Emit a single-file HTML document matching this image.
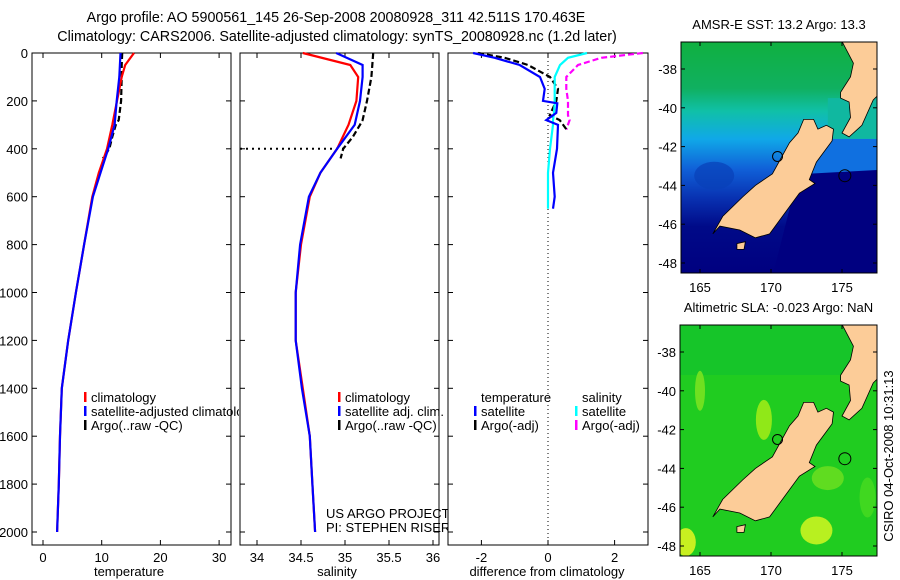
<!DOCTYPE html>
<html><head><meta charset="utf-8">
<style>
html,body{margin:0;padding:0;background:#fff;}
svg{display:block;font-family:"Liberation Sans",sans-serif;}
text{font-size:13px;fill:#000;}
text.ttl{font-size:14.3px;}
</style></head>
<body>
<svg id="c" width="900" height="580" viewBox="0 0 900 580" xmlns="http://www.w3.org/2000/svg">
<defs>
<clipPath id="cp1"><rect x="32" y="53" width="207" height="492"/></clipPath>
<clipPath id="cpm1"><rect x="681" y="42" width="196" height="231"/></clipPath>
<clipPath id="cpm2"><rect x="680" y="325" width="197" height="231"/></clipPath>
<linearGradient id="sstg" x1="0" y1="0" x2="0" y2="1">
<stop offset="0" stop-color="#10b040"/><stop offset="0.2" stop-color="#10b060"/>
<stop offset="0.3" stop-color="#10c0a8"/><stop offset="0.42" stop-color="#10a8e8"/>
<stop offset="0.55" stop-color="#1060d8"/><stop offset="0.68" stop-color="#0830b0"/>
<stop offset="0.8" stop-color="#000a88"/><stop offset="1" stop-color="#000080"/>
</linearGradient>
</defs>
<text class="ttl" x="336" y="22" text-anchor="middle">Argo profile: AO 5900561_145 26-Sep-2008 20080928_311 42.511S 170.463E</text>
<text class="ttl" x="337" y="41" text-anchor="middle">Climatology: CARS2006. Satellite-adjusted climatology: synTS_20080928.nc (1.2d later)</text>
<g id="g"></g>
</svg>
<script>
// ---- data ----
const depthClim = [0,50,100,200,300,400,500,600,800,1000,1200,1400,1600,1800,2000];
const tempClim  = [15.5,14.0,13.4,12.6,11.8,10.9,9.5,8.4,7.0,5.6,4.3,3.2,2.9,2.7,2.4];
const tempSat   = [13.2,13.1,13.0,12.55,12.2,11.1,9.8,8.5,7.0,5.6,4.3,3.2,2.9,2.7,2.4];
const depthArgo = [0,50,100,200,280,300,350,400,440];
const tempArgo  = [13.5,13.4,13.4,13.3,12.9,12.4,11.8,11.3,10.2];
const salClim   = [34.52,35.06,35.15,35.13,35.04,34.91,34.72,34.6,34.5,34.44,34.44,34.52,34.6,34.63,34.66];
const salSat    = [34.9,35.2,35.2,35.17,35.11,34.91,34.72,34.59,34.49,34.44,34.44,34.51,34.6,34.63,34.66];
const salArgo   = [35.32,35.31,35.3,35.25,35.2,35.17,35.09,34.98,34.95];
const depthDiff = [0,20,50,100,150,200,210,250,280,300,400,500,600,650];
const dTempSat  = [-2.25,-1.6,-0.85,-0.24,-0.1,-0.15,0.28,0.25,-0.05,0.3,0.27,0.15,0.2,0.15];
const dSalSat   = [1.17,0.6,0.36,0.2,0.2,0.2,0.2,0.18,0.15,0.15,0.06,0.0,0.0,0.0];
const depthDiffArgo = [0,20,50,100,150,200,260,280,320];
const dTempArgo = [-2.1,-1.3,-0.6,0.06,0.3,0.25,0.05,0.35,0.56];
const dSalArgo  = [2.85,1.6,0.9,0.55,0.55,0.6,0.6,0.65,0.55];
const depthTicks = [0,200,400,600,800,1000,1200,1400,1600,1800,2000];
const tempTicks = [0,10,20,30];
const salTicks = [34,34.5,35,35.5,36];
const diffTicks = [-2,0,2];
const lonTicks = [165,170,175];
const latTicks = [-38,-40,-42,-44,-46,-48];

const NS="http://www.w3.org/2000/svg";
const G=document.getElementById('g');
function mk(tag,attrs,parent){const e=document.createElementNS(NS,tag);for(const k in attrs)e.setAttribute(k,attrs[k]);(parent||G).appendChild(e);return e;}
function txt(x,y,s,anchor,parent){const t=mk('text',{x:x,y:y,'text-anchor':anchor||'start'},parent);t.textContent=s;return t;}

const yD = d => 53 + d*0.2395;
const xT = v => 43 + v*5.87;
const xS = v => 257 + (v-34)*88;
const xF = v => 548 + v*33.3;

function stepPath(xs,ds,fx){let p='';for(let i=0;i<xs.length;i++){const x=fx(xs[i]),y=yD(ds[i]);p+=(i?'L':'M')+x.toFixed(1)+','+y.toFixed(1);}return p;}

function panel(x0,w,name){
  const r=mk('rect',{x:x0,y:53,width:w,height:492,fill:'#fff',stroke:'#000','stroke-width':1});
  
  
  depthTicks.forEach(d=>{mk('line',{x1:x0,x2:x0+5,y1:yD(d),y2:yD(d),stroke:'#000'});mk('line',{x1:x0+w-5,x2:x0+w,y1:yD(d),y2:yD(d),stroke:'#000'});});
}
function xticks(ticks,fx){ticks.forEach(v=>{const x=fx(v);mk('line',{x1:x,x2:x,y1:545,y2:540,stroke:'#000'});mk('line',{x1:x,x2:x,y1:53,y2:58,stroke:'#000'});const t=txt(x,562,String(v),'middle');});}
function line(xs,ds,fx,color,dash,name){const p=mk('path',{d:stepPath(xs,ds,fx),fill:'none',stroke:color,'stroke-width':2.2});if(dash)p.setAttribute('stroke-dasharray',dash);}
function legend(x,y,color,label,name){mk('rect',{x:x,y:y-10,width:2.5,height:10,fill:color});const t=txt(x+7,y,label);return t;}

// Panel 1 temperature
panel(32,199,'temperature-panel');
depthTicks.forEach(d=>{const t=txt(28,yD(d)+5,String(d),'end');});
xticks(tempTicks,xT);
line(tempArgo,depthArgo,xT,'#000','6,3','temp-argo-line');
line(tempClim,depthClim,xT,'#f00',null,'temp-climatology-line');
line(tempSat,depthClim,xT,'#00f',null,'temp-satellite-line');
let xl=txt(129,576,'temperature','middle');
legend(84,402,'#f00','climatology','legend-climatology');
legend(84,416,'#00f','satellite-adjusted climatology','legend-satellite-adjusted').setAttribute('clip-path','url(#cp1)');
legend(84,430,'#000','Argo(..raw -QC)','legend-argo');

// Panel 2 salinity
panel(240,199,'salinity-panel');
xticks(salTicks,xS);
let dl=mk('line',{x1:240,x2:xS(35.0),y1:yD(400),y2:yD(400),stroke:'#000','stroke-width':2,'stroke-dasharray':'2,4'});

line(salArgo,depthArgo,xS,'#000','6,3','sal-argo-line');
line(salClim,depthClim,xS,'#f00',null,'sal-climatology-line');
line(salSat,depthClim,xS,'#00f',null,'sal-satellite-line');
xl=txt(337,576,'salinity','middle');
legend(338,402,'#f00','climatology','legend-sal-climatology');
legend(338,416,'#00f','satellite adj. clim.','legend-sal-satellite');
legend(338,430,'#000','Argo(..raw -QC)','legend-sal-argo');
let tt=txt(326,518,'US ARGO PROJECT');
tt=txt(326,532,'PI: STEPHEN RISER');

// Panel 3 difference
panel(448,200,'difference-panel');
xticks(diffTicks,xF);
let zl=mk('line',{x1:xF(0),x2:xF(0),y1:53,y2:545,stroke:'#000','stroke-dasharray':'1,3'});

line(dSalArgo,depthDiffArgo,xF,'#f0f','6,3','diff-sal-argo-line');
line(dTempArgo,depthDiffArgo,xF,'#000','6,3','diff-temp-argo-line');
line(dSalSat,depthDiff,xF,'#0ff',null,'diff-sal-satellite-line');
line(dTempSat,depthDiff,xF,'#00f',null,'diff-temp-satellite-line');
xl=txt(547,576,'difference from climatology','middle');
tt=txt(481,402,'temperature');
tt=txt(582,402,'salinity');
legend(474,416,'#00f','satellite','legend-diff-temp-satellite');
legend(474,430,'#000','Argo(-adj)','legend-diff-temp-argo');
legend(575,416,'#0ff','satellite','legend-diff-sal-satellite');
legend(575,430,'#f0f','Argo(-adj)','legend-diff-sal-argo');

// Maps
const southIsland=[[165.9,-46.5],[166.6,-45.6],[168,-44.6],[168.9,-44],[170.1,-43.4],[171.3,-41.8],[171.9,-41.3],[172.3,-40.6],[173,-40.6],[173.3,-41.1],[173.9,-40.9],[174.4,-41.1],[174.3,-41.7],[173.2,-42.8],[172.7,-43.7],[173.1,-43.9],[172,-44.4],[170.8,-45.6],[169.9,-46.5],[168.9,-46.7],[167.8,-46.3],[166.4,-46.1]];
const northIsland=[[174.8,-36.3],[175.8,-37.7],[175.6,-38.4],[174.9,-39.2],[174.9,-39.5],[175.5,-39.7],[175.6,-40.5],[175,-41.3],[175.5,-41.5],[176.4,-40.9],[177.2,-39.6],[177.6,-39.3],[177.6,-36.3]];
const stewart=[[167.6,-47],[168.2,-46.9],[168.1,-47.3],[167.6,-47.3]];
function map(top,left,w,name,title,bgfill,clip,extra){
  const fx=lon=>700+(lon-165)*14.2, fy=lat=>top+27-(lat+38)*19.4;
  const g=mk('g',{'clip-path':clip});
  
  mk('rect',{x:left,y:top,width:w,height:231,fill:bgfill},g);
  extra(g,fx,fy);
  const poly=pts=>pts.map(p=>fx(p[0]).toFixed(1)+','+fy(p[1]).toFixed(1)).join(' ');
  [southIsland,northIsland,stewart].forEach(pl=>{const e=mk('polygon',{points:poly(pl),fill:'#fccc98',stroke:'#000','stroke-width':0.8},g);});
  mk('circle',{cx:fx(170.46),cy:fy(-42.51),r:5,fill:'none',stroke:'#000'},g);
  mk('circle',{cx:fx(175.2),cy:fy(-43.5),r:6,fill:'none',stroke:'#000'},g);
  mk('rect',{x:left,y:top,width:w,height:231,fill:'none',stroke:'#000'});
  lonTicks.forEach(l=>{const x=fx(l);mk('line',{x1:x,x2:x,y1:top,y2:top+4,stroke:'#000'});mk('line',{x1:x,x2:x,y1:top+231,y2:top+227,stroke:'#000'});const t=txt(x,top+250,String(l),'middle');});
  latTicks.forEach(l=>{const y=fy(l);mk('line',{x1:left,x2:left+4,y1:y,y2:y,stroke:'#000'});mk('line',{x1:left+w,x2:left+w-4,y1:y,y2:y,stroke:'#000'});const t=txt(left-4,y+5,String(l),'end');});
  const tl=txt(left+w/2,top-13,title,'middle');
}
map(42,681,196,'sst-map','AMSR-E SST: 13.2 Argo: 13.3','url(#sstg)','url(#cpm1)',(g,fx,fy)=>{
  const P=pts=>pts.map(p=>fx(p[0])+','+fy(p[1])).join(' ');
  mk('polygon',{points:P([[172,-43.2],[177.6,-43.2],[177.6,-49],[170,-49]]),fill:'#000080'},g);
  mk('polygon',{points:P([[173.5,-41.6],[177.6,-41.6],[177.6,-43.2],[172.6,-43.4]]),fill:'#1070e0'},g);
  mk('polygon',{points:P([[174,-39.5],[177.6,-39.5],[177.6,-41.6],[174,-41.6]]),fill:'#10b8a0'},g);
  mk('ellipse',{cx:fx(166),cy:fy(-43.5),rx:20,ry:14,fill:'#0840b8',opacity:0.7},g);
});
map(325,680,197,'sla-map','Altimetric SLA: -0.023 Argo: NaN','#20cc20','url(#cpm2)',(g,fx,fy)=>{
  mk('rect',{x:680,y:325,width:197,height:50,fill:'#10c030',opacity:0.6},g);
  mk('ellipse',{cx:fx(165),cy:fy(-40),rx:5,ry:20,fill:'#70e020'},g);
  mk('ellipse',{cx:fx(169.5),cy:fy(-41.5),rx:8,ry:20,fill:'#90e818'},g);
  mk('ellipse',{cx:fx(173.2),cy:fy(-47.2),rx:16,ry:14,fill:'#b8f020'},g);
  mk('ellipse',{cx:fx(164),cy:fy(-47.8),rx:10,ry:14,fill:'#c8f020'},g);
  mk('ellipse',{cx:fx(176.8),cy:fy(-45.5),rx:8,ry:20,fill:'#40d820'},g);
  mk('ellipse',{cx:fx(174),cy:fy(-44.5),rx:16,ry:12,fill:'#60dc20'},g);
});
const vt=mk('text',{x:0,y:0,transform:'translate(893,456) rotate(-90)','text-anchor':'middle'});
vt.textContent='CSIRO 04-Oct-2008 10:31:13';


</script>
</body></html>
